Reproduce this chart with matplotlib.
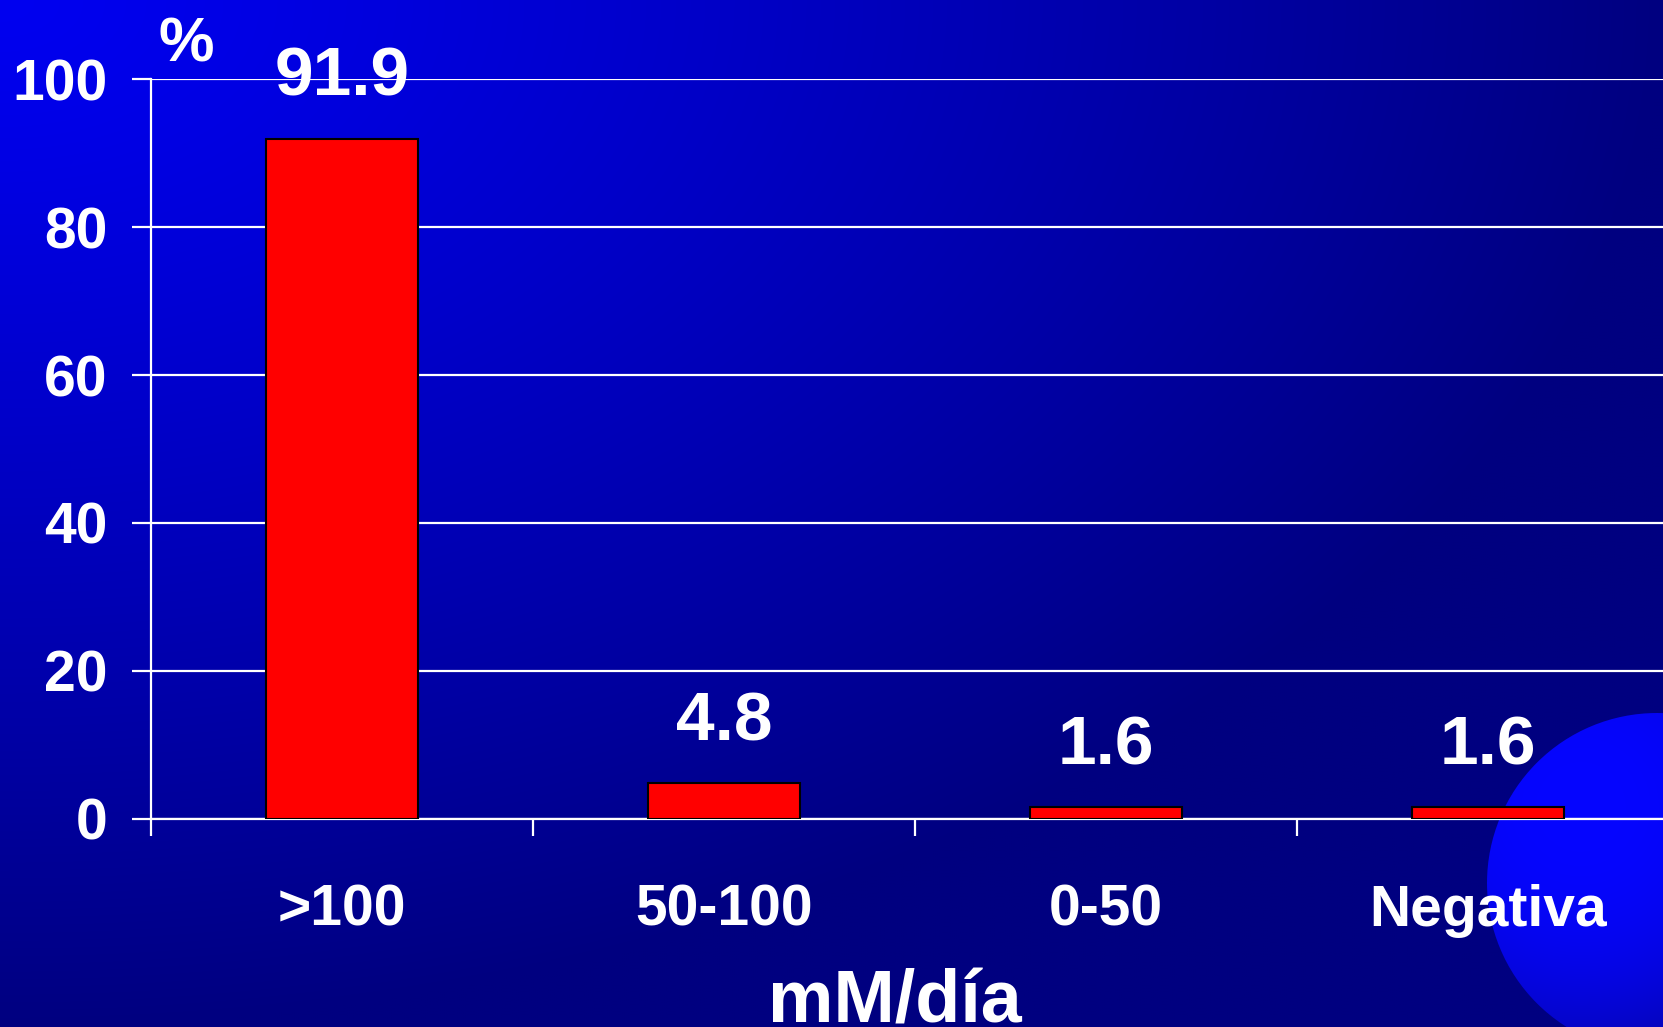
import numpy as np
import matplotlib
matplotlib.use("Agg")
import matplotlib.pyplot as plt
from matplotlib.patches import Circle

# Data
categories = [">100", "50-100", "0-50", "Negativa"]
values = [91.9, 4.8, 1.6, 1.6]
value_labels = ["91.9", "4.8", "1.6", "1.6"]
y_ticks = [0, 20, 40, 60, 80, 100]
y_unit = "%"
x_title = "mM/día"

plt.rcParams["font.family"] = ["Liberation Sans", "DejaVu Sans"]
plt.rcParams["font.weight"] = "bold"

W, H, DPI = 1663, 1027, 100
fig = plt.figure(figsize=(W / DPI, H / DPI), dpi=DPI)

# Slide background: bright blue in the top-left corner fading to navy
bg = fig.add_axes([0, 0, 1, 1], zorder=0)
bg.set_xlim(0, W)
bg.set_ylim(H, 0)
bg.axis("off")
gy, gx = np.mgrid[0:1:300j, 0:1:480j]
d = np.clip(np.hypot(gx, gy), 0, 1)
blue = (240 - 112 * d ** 1.2) / 255.0
img = np.zeros(gy.shape + (3,))
img[..., 2] = blue
bg.imshow(img, extent=(0, W, H, 0), aspect="auto", interpolation="bilinear", zorder=0)

# Decorative globe in the lower-right corner
cx, cy, r = 1657, 883, 170
clip = Circle((cx, cy), r, transform=bg.transData)
sy, sx = np.mgrid[cy - r:cy + r:200j, cx - r:cx + r:200j]
shade = np.hypot(sx - (cx - 0.45 * r), sy - (cy - 0.45 * r)) / (1.5 * r)
globe = np.zeros(sy.shape + (3,))
globe[..., 0] = 0.02
globe[..., 1] = 0.02
globe[..., 2] = np.clip(1.0 - 0.30 * shade ** 2.5, 0.72, 1.0)
gim = bg.imshow(globe, extent=(cx - r, cx + r, cy + r, cy - r), aspect="auto",
                interpolation="bilinear", zorder=1)
gim.set_clip_path(clip)

# Chart
ax_left, cat_width = 151, 382.0
ax = fig.add_axes([ax_left / W, (H - 819) / H, 4 * cat_width / W, (819 - 79) / H], zorder=2)
ax.patch.set_alpha(0)
x = np.arange(len(categories))
ax.bar(x, values, width=0.4, color="#FF0000", edgecolor="black", linewidth=1.5, zorder=3)

ax.set_xlim(-0.5, len(categories) - 0.5)
ax.set_ylim(0, 100)
ax.set_axisbelow(True)
ax.yaxis.grid(True, color="white", linewidth=1.6)

for s in ["top", "right"]:
    ax.spines[s].set_visible(False)
for s in ["left", "bottom"]:
    ax.spines[s].set_color("white")
    ax.spines[s].set_linewidth(1.6)

ax.set_yticks(y_ticks)
ax.set_yticklabels([str(t) for t in y_ticks])
ax.tick_params(axis="y", direction="out", length=13.7, width=1.6, color="white",
               labelcolor="white", labelsize=41, pad=17.5)

ax.set_xticks(np.arange(len(categories) + 1) - 0.5)
ax.set_xticklabels([])
ax.tick_params(axis="x", which="major", direction="out", length=12.2, width=1.6, color="white")
ax.set_xticks(x, minor=True)
ax.set_xticklabels(categories, minor=True)
ax.tick_params(axis="x", which="minor", length=0, labelcolor="white", labelsize=41, pad=46.5)

for xi, v, lab in zip(x, values, value_labels):
    ax.annotate(lab, xy=(xi, v), xytext=(0, 31), textcoords="offset points",
                ha="center", va="baseline", fontsize=50, fontweight="bold",
                color="white", annotation_clip=False)

fig.text(186 / W, 1 - 61 / H, y_unit, ha="center", va="baseline",
         fontsize=45, fontweight="bold", color="white")
fig.text(895 / W, 1 - 1022 / H, x_title, ha="center", va="baseline",
         fontsize=53, fontweight="bold", color="white")

fig.savefig("out.png", dpi=DPI)
